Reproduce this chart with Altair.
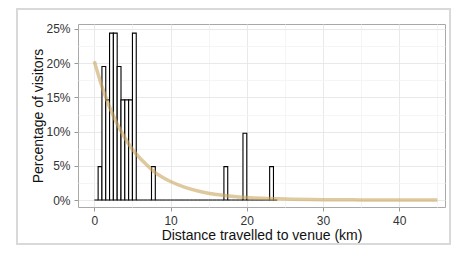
import altair as alt
import pandas as pd
import numpy as np

# Histogram: bins of 0.5 km from 0 to 24 km, counts of visitors (n = 41)
bin_width = 0.5
bin_starts = list(np.arange(0, 24, 0.5))
counts = [0, 1, 4, 3, 5, 5, 4, 3, 3, 3, 5, 0,   # 0 - 6
          0, 0, 0, 1, 0, 0, 0, 0, 0, 0, 0, 0,    # 6 - 12
          0, 0, 0, 0, 0, 0, 0, 0, 0, 0, 1, 0,    # 12 - 18
          0, 0, 0, 2, 0, 0, 0, 0, 0, 0, 1, 0]    # 18 - 24
n_total = sum(counts)

# Fitted density curve (percent)
curve_x = [0, 1, 2, 3, 4, 5, 6, 7, 8, 9, 10, 12, 14, 16, 18, 20, 22, 25, 30, 35, 40, 45]
curve_y = [20.3, 16.6, 13.6, 11.1, 9.1, 7.4, 6.1, 5.0, 4.0, 3.3, 2.7, 1.8, 1.2, 0.8,
           0.55, 0.37, 0.25, 0.14, 0.05, 0.02, 0.01, 0.0]

# grid values (major labelled, minor unlabelled)
x_grid = [0, 5, 10, 15, 20, 25, 30, 35, 40, 45]
y_grid = [0, 2.5, 5, 7.5, 10, 12.5, 15, 17.5, 20, 22.5, 25]

hist = pd.DataFrame({
    "start": bin_starts,
    "end": [s + bin_width for s in bin_starts],
    "pct": [c / n_total / bin_width * 100 for c in counts],
})
curve = pd.DataFrame({"x": curve_x, "y": curve_y})

xdom = [-2.14, 46.0]
ydom = [-1.02, 25.73]
xs = alt.Scale(domain=xdom, nice=False, zero=False)
ys = alt.Scale(domain=ydom, nice=False, zero=False)


def axis_style(major_test):
    return dict(
        grid=True,
        gridColor={"condition": {"test": major_test, "value": "#e6e6e6"}, "value": "#f4f4f4"},
        gridWidth=0.9,
        domain=False,
        tickColor="#999999", tickSize=4,
        tickOpacity={"condition": {"test": major_test, "value": 1}, "value": 0},
        labelColor="#333333", labelFontSize=12, labelPadding=4,
        labelOverlap=False, labelFont="Liberation Sans",
        titleFont="Liberation Sans",
        titleFontSize=14, titleFontWeight="normal",
        titleColor="#111111", titleBaseline="middle")


x_axis = alt.Axis(values=x_grid, title="Distance travelled to venue (km)",
                  labelExpr="datum.value % 10 === 0 ? datum.label : ''",
                  titleY=28.5, titleX=183.5, **axis_style("datum.value % 10 === 0"))
y_axis = alt.Axis(values=y_grid, title="Percentage of visitors",
                  labelExpr="datum.value % 5 === 0 ? format(datum.value, 'd') + '%' : ''",
                  titleX=-40, titleY=91.5, **axis_style("datum.value % 5 === 0"))

bars = alt.Chart(hist).mark_rect(
    fill="white", stroke="black", strokeWidth=1.1
).encode(
    x=alt.X("start:Q", scale=xs, axis=x_axis, title="Distance travelled to venue (km)"),
    x2="end:Q",
    y=alt.Y("pct:Q", scale=ys, axis=y_axis, title="Percentage of visitors"),
    y2=alt.datum(0),
)

line = alt.Chart(curve).mark_line(
    color="#c9a55e", opacity=0.6, strokeWidth=3.5, interpolate="monotone"
).encode(
    x=alt.X("x:Q", scale=xs, axis=x_axis, title="Distance travelled to venue (km)"),
    y=alt.Y("y:Q", scale=ys, axis=y_axis, title="Percentage of visitors"),
)

frame = alt.Chart(pd.DataFrame({"a": [0]})).mark_rect(
    fill=None, stroke="#d9d9d9", strokeWidth=2, clip=False
).encode(x=alt.value(-61), x2=alt.value(372), y=alt.value(-15), y2=alt.value(220))

chart = alt.layer(bars, line, frame).properties(
    width=367, height=183,
    autosize=alt.AutoSizeParams(type="none"),
    padding={"left": 70, "top": 16, "right": 7, "bottom": 38},
).configure_view(
    stroke="#a8a8a8", strokeWidth=1
)

chart.save("out.html", embed_options={"renderer": "svg", "actions": False})
